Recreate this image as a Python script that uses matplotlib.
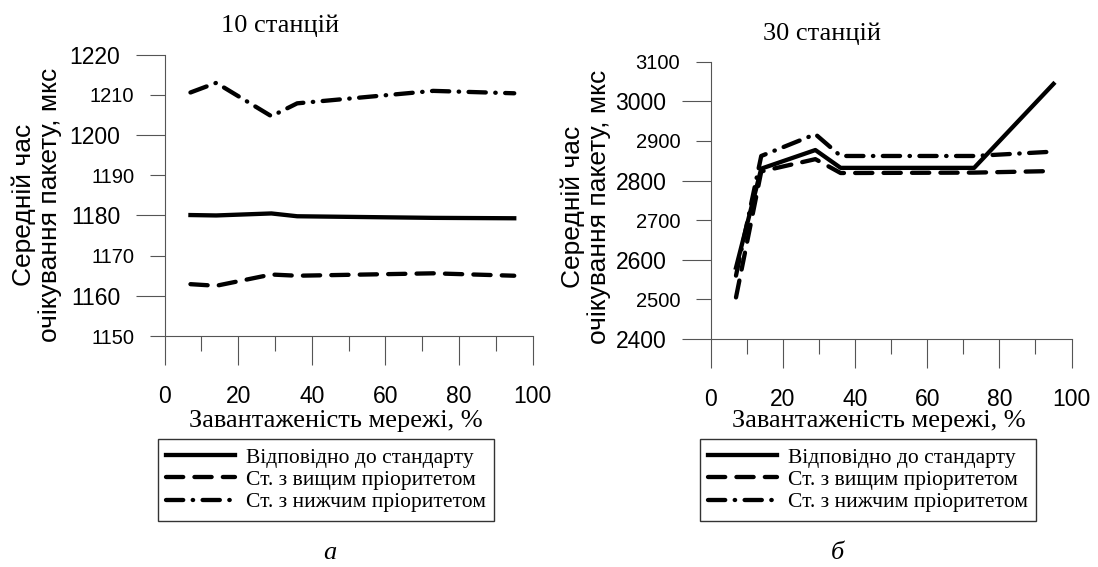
import matplotlib
matplotlib.use("Agg")
import matplotlib.pyplot as plt
from matplotlib.ticker import MultipleLocator, FixedLocator, FormatStrFormatter

# дані, зчитані з графіків
load_10 = [7, 14, 29, 36, 73, 95]
std_10 = [1180.1, 1180.0, 1180.5, 1179.8, 1179.4, 1179.3]
high_10 = [1162.9, 1162.5, 1165.3, 1165.0, 1165.6, 1165.0]
low_10 = [1210.6, 1213.0, 1204.7, 1207.9, 1211.0, 1210.4]

load_30 = [7, 14, 29, 36, 73, 95]
std_30 = [2580, 2830, 2877, 2832, 2832, 3044]
high_30 = [2505, 2823, 2854, 2819, 2820, 2824]
low_30 = [2560, 2862, 2917, 2862, 2862, 2873]

labels = ['Відповідно до стандарту', 'Ст. з вищим пріоритетом', 'Ст. з нижчим пріоритетом']

SANS = 'Liberation Sans'
SERIF = 'Liberation Serif'
W, H = 1098, 567

fig = plt.figure(figsize=(W / 100, H / 100), dpi=100)


def px(x, y):
    # пікселі -> частки фігури
    return x / W, 1 - y / H


def make_panel(rect, xs, ys, ylim, ymajor, yminor, title, title_xy, ylab_xy,
               xlab_xy, leg_xy, cap, cap_xy):
    ax = fig.add_axes(rect)
    styles = [dict(ls='-'), dict(ls=(0, (4, 2.6))), dict(ls=(0, (4, 2.2, 0.1, 2.2)))]
    for y, st, lab in zip(ys, styles, labels):
        ax.plot(xs, y, color='black', lw=3.1, label=lab, dash_capstyle='round', **st)
    ax.set_xlim(0, 100)
    ax.set_ylim(*ylim)
    for s in ['top', 'right']:
        ax.spines[s].set_visible(False)
    for s in ['left', 'bottom']:
        ax.spines[s].set_color('#555555')
        ax.spines[s].set_linewidth(0.8)
    ax.xaxis.set_major_locator(MultipleLocator(20))
    ax.xaxis.set_minor_locator(FixedLocator([10, 30, 50, 70, 90]))
    ax.yaxis.set_major_locator(FixedLocator(ymajor))
    ax.yaxis.set_minor_locator(FixedLocator(yminor))
    ax.yaxis.set_major_formatter(FormatStrFormatter('%d'))
    ax.yaxis.set_minor_formatter(FormatStrFormatter('%d'))
    ax.tick_params(which='both', direction='out', color='#555555', width=0.8)
    ax.tick_params(which='major', length=21)
    ax.tick_params(which='minor', length=11)
    ax.tick_params(axis='y', which='major', labelsize=16.5, pad=11)
    ax.tick_params(axis='y', which='minor', labelsize=14.5, pad=11)
    ax.tick_params(axis='x', which='major', labelsize=16.5, pad=14)
    for t in ax.get_xticklabels() + ax.get_yticklabels() + ax.get_yticklabels(minor=True):
        t.set_fontfamily(SANS)

    fig.text(*px(*title_xy), title, family=SERIF, fontsize=19, ha='center', va='center')
    fig.text(*px(*ylab_xy), 'Середній час\nочікування пакету, мкс', family=SANS,
             fontsize=19, rotation=90, ha='center', va='center',
             multialignment='center', linespacing=1.1)
    fig.text(*px(*xlab_xy), 'Завантаженість мережі, %', family=SERIF, fontsize=19,
             ha='center', va='center')
    leg = ax.legend(loc='upper center', bbox_to_anchor=px(*leg_xy),
                    bbox_transform=fig.transFigure, prop={'family': SERIF, 'size': 15.5},
                    frameon=True, fancybox=False, framealpha=1, edgecolor='#333333',
                    handlelength=3.2, handletextpad=0.5, labelspacing=0.1,
                    borderpad=0.4, borderaxespad=0)
    leg.get_frame().set_linewidth(1.0)
    fig.text(*px(*cap_xy), cap, family=SERIF, fontsize=19, style='italic',
             ha='center', va='center')
    return ax


make_panel([0.1500, 0.4074, 0.3351, 0.4961], load_10, [std_10, high_10, low_10],
           (1150, 1220), [1160, 1180, 1200, 1220], [1150, 1170, 1190, 1210],
           '10 станцій', (280, 26), (37, 205), (336, 421), (326, 439), 'а', (330, 553))

make_panel([0.6473, 0.4021, 0.3286, 0.4891], load_30, [std_30, high_30, low_30],
           (2400, 3100), [2400, 2600, 2800, 3000], [2500, 2700, 2900, 3100],
           '30 станцій', (822, 34), (586, 207), (879, 421), (868, 439), 'б', (837, 553))

fig.savefig('out.png', dpi=100)
